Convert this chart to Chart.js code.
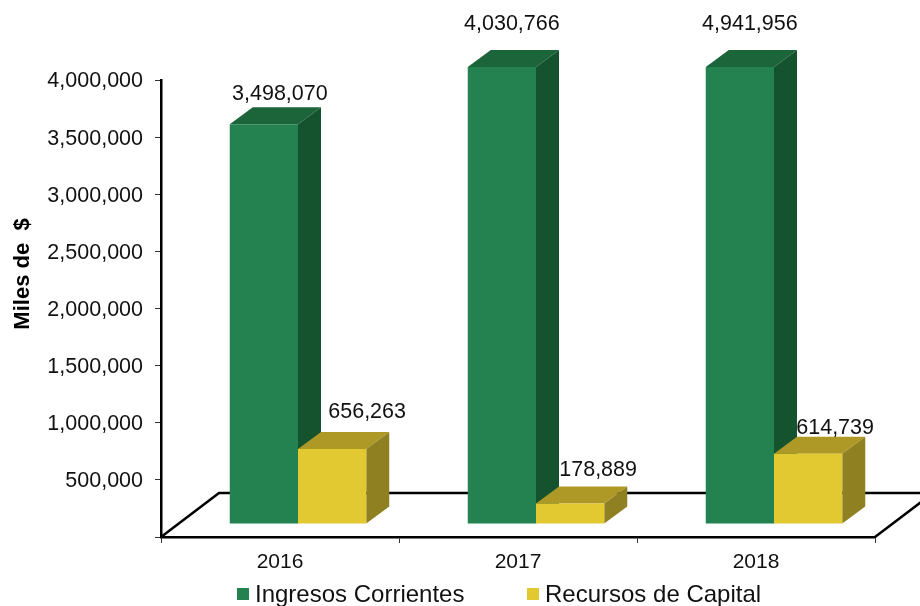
<!DOCTYPE html>
<html>
<head>
<meta charset="utf-8">
<title>Ingresos</title>
<script src="https://cdn.jsdelivr.net/npm/chart.js@4"></script>
<style>
  html, body { margin: 0; padding: 0; background: #fff; }
  canvas { display: block; }
</style>
</head>
<body>
<canvas id="ingresos-chart" width="920" height="606"></canvas>
<script>
const years = ['2016', '2017', '2018'];
const ingresosCorrientes = [3498070, 4030766, 4941956];
const recursosCapital = [656263, 178889, 614739];
const axisMax = 4000000;
const axisStep = 500000;

const fontName = '"Liberation Sans", Arial, sans-serif';

// box depth of each bar and the floor under them
const barDepth = { x: 23, y: 17 };
const floorDepth = { x: 58, y: 44 };
// bars stand in the middle of the floor, not on its front edge
const barShift = { x: 18, y: -13 };

// where each value label sits, relative to the back top edge of its bar
const labelNudge = [
  [[16, -13], [10, -26], [10, -26]],
  [[35, -20], [28, -16], [27, -9]]
];

const fmt = v => v.toLocaleString('en-US');

const box3d = {
  id: 'box3d',
  beforeDatasetsDraw(chart) {
    const ctx = chart.ctx;
    const area = chart.chartArea;

    // floor outline
    const backY = area.bottom - floorDepth.y;
    ctx.save();
    ctx.strokeStyle = '#000';
    ctx.lineWidth = 2.5;
    ctx.beginPath();
    ctx.moveTo(area.left, area.bottom);
    ctx.lineTo(area.left + floorDepth.x, backY);
    ctx.lineTo(area.right + floorDepth.x, backY);
    ctx.lineTo(area.right, area.bottom);
    ctx.stroke();

    // tops and sides go under the front faces
    chart.data.datasets.forEach((ds, i) => {
      chart.getDatasetMeta(i).data.forEach(bar => {
        const left = bar.x - bar.width / 2 + barShift.x;
        const right = bar.x + bar.width / 2 + barShift.x;
        const top = Math.max(bar.y, area.top) + barShift.y;
        const bottom = bar.base + barShift.y;

        ctx.fillStyle = ds.topColor;
        ctx.beginPath();
        ctx.moveTo(left, top);
        ctx.lineTo(left + barDepth.x, top - barDepth.y);
        ctx.lineTo(right + barDepth.x, top - barDepth.y);
        ctx.lineTo(right, top);
        ctx.closePath();
        ctx.fill();

        ctx.fillStyle = ds.sideColor;
        ctx.beginPath();
        ctx.moveTo(right, top);
        ctx.lineTo(right + barDepth.x, top - barDepth.y);
        ctx.lineTo(right + barDepth.x, bottom - barDepth.y);
        ctx.lineTo(right, bottom);
        ctx.closePath();
        ctx.fill();
      });
    });
    ctx.restore();
  },
  beforeDatasetDraw(chart) {
    chart.ctx.save();
    chart.ctx.translate(barShift.x, barShift.y);
  },
  afterDatasetDraw(chart) {
    chart.ctx.restore();
  }
};

const valueLabels = {
  id: 'valueLabels',
  afterDatasetsDraw(chart) {
    const ctx = chart.ctx;
    const area = chart.chartArea;
    ctx.save();
    ctx.font = '21.5px ' + fontName;
    ctx.fillStyle = '#111';
    ctx.textAlign = 'center';
    ctx.textBaseline = 'middle';
    chart.data.datasets.forEach((ds, i) => {
      chart.getDatasetMeta(i).data.forEach((bar, j) => {
        const top = Math.max(bar.y, area.top) + barShift.y - barDepth.y;
        const [dx, dy] = labelNudge[i][j];
        ctx.fillText(fmt(ds.data[j]), bar.x + barShift.x + dx, top + dy);
      });
    });
    ctx.restore();
  }
};

const sideText = {
  id: 'sideText',
  afterDraw(chart) {
    const ctx = chart.ctx;
    ctx.save();

    // the band behind the legend trims the foot of the year labels
    ctx.fillStyle = '#fff';
    ctx.fillRect(0, 569, chart.width, chart.height - 569);

    // axis title
    ctx.save();
    ctx.translate(23, 274);
    ctx.rotate(-Math.PI / 2);
    ctx.font = 'bold 22px ' + fontName;
    ctx.fillStyle = '#000';
    ctx.textAlign = 'center';
    ctx.textBaseline = 'middle';
    ctx.fillText('Miles de  $', 0, 0);
    ctx.restore();

    // legend
    const starts = [237, 527];
    ctx.font = '24px ' + fontName;
    ctx.textBaseline = 'middle';
    ctx.textAlign = 'left';
    chart.data.datasets.forEach((ds, i) => {
      ctx.fillStyle = ds.backgroundColor;
      ctx.fillRect(starts[i], 588, 12, 12);
      ctx.fillStyle = '#111';
      ctx.fillText(ds.label, starts[i] + 18, 595);
    });
    ctx.restore();
  }
};

new Chart(document.getElementById('ingresos-chart').getContext('2d'), {
  type: 'bar',
  data: {
    labels: years,
    datasets: [
      {
        label: 'Ingresos Corrientes',
        data: ingresosCorrientes,
        backgroundColor: '#23824f',
        topColor: '#1c653a',
        sideColor: '#14532e',
        clip: 0
      },
      {
        label: 'Recursos de Capital',
        data: recursosCapital,
        backgroundColor: '#e3c931',
        topColor: '#ae9926',
        sideColor: '#8f8021',
        clip: 0
      }
    ]
  },
  options: {
    responsive: false,
    animation: false,
    layout: { padding: { top: 80, right: 45, bottom: 0, left: 0 } },
    datasets: { bar: { categoryPercentage: 0.5735, barPercentage: 1 } },
    plugins: {
      legend: { display: false },
      tooltip: { enabled: false }
    },
    scales: {
      x: {
        afterFit: scale => { scale.height = 69; },
        border: { color: '#000', width: 2.5 },
        grid: { drawOnChartArea: false, color: '#333', tickLength: 6 },
        ticks: { color: '#111', font: { family: fontName, size: 21 }, padding: 7, maxRotation: 0 }
      },
      y: {
        min: 0,
        max: axisMax,
        afterFit: scale => { scale.width = 161; },
        border: { color: '#000', width: 2.5 },
        grid: { drawOnChartArea: false, color: '#333', tickLength: 6 },
        ticks: {
          stepSize: axisStep,
          color: '#111',
          padding: 12,
          labelOffset: 1.5,
          font: { family: fontName, size: 21.5 },
          callback: v => (v === 0 ? '' : fmt(v))
        }
      }
    }
  },
  plugins: [box3d, valueLabels, sideText]
});
</script>
</body>
</html>
